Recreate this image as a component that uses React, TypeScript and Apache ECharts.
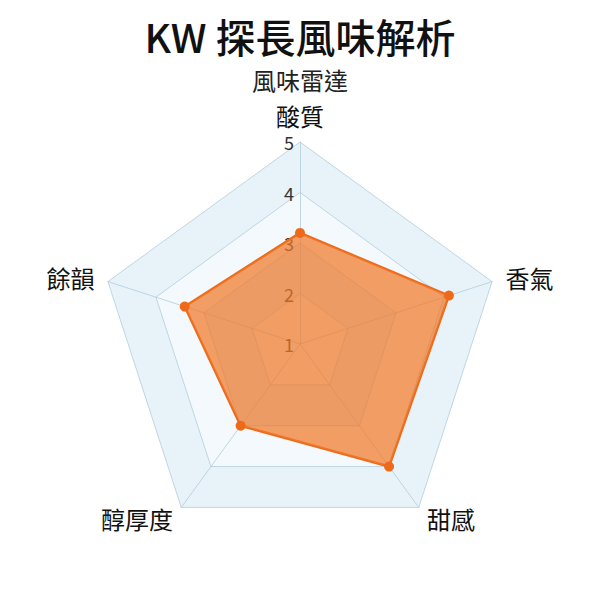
import { useEffect, useRef } from 'react';
import * as echarts from 'echarts';

// ECharts draws radar axes counter-clockwise, so the order goes top, left, bottom-left, bottom-right, right
const titleText = 'KW 探長風味解析';
const subtitleText = '風味雷達';
const indicatorNames = ['酸質', '餘韻', '醇厚度', '甜感', '香氣'];
const flavorScores = [3.2, 3.4, 3.0, 4.0, 4.1];
const scoreMin = 1;
const scoreMax = 5;

const App: React.FC = () => {
    const chartRef = useRef<HTMLDivElement>(null);

    useEffect(() => {
        document.body.style.margin = '0';
        if (!chartRef.current) return;
        const chart = echarts.init(chartRef.current, undefined, { renderer: 'svg' });
        const font = '"Noto Sans CJK TC", "Noto Sans", sans-serif';

        chart.setOption({
            animation: false,
            backgroundColor: '#ffffff',
            title: {
                text: titleText,
                subtext: subtitleText,
                left: 'center',
                top: 11,
                itemGap: 12,
                textStyle: { fontSize: 40, fontWeight: 500, color: '#111', fontFamily: font },
                subtextStyle: { fontSize: 24, color: '#222', fontFamily: font }
            },
            radar: {
                center: ['50%', 344],
                radius: 202,
                startAngle: 90,
                splitNumber: 4,
                shape: 'polygon',
                // only the top axis carries the 1..5 tick labels
                indicator: indicatorNames.map((name, i) => ({
                    name,
                    min: scoreMin,
                    max: scoreMax,
                    axisLabel: { show: i === 0 }
                })),
                axisName: { color: '#111', fontSize: 24, lineHeight: 26, fontFamily: font },
                nameGap: 14,
                axisLine: { lineStyle: { color: 'rgba(170,200,215,0.7)' } },
                splitLine: { lineStyle: { color: 'rgba(170,200,215,0.7)' } },
                splitArea: {
                    show: true,
                    areaStyle: { color: ['#f3f9fc', '#e7f3f9'] }
                },
                axisLabel: {
                    show: true,
                    color: '#333',
                    fontSize: 18,
                    lineHeight: 16,
                    fontFamily: font,
                    margin: 6
                }
            },
            series: [
                {
                    type: 'radar',
                    symbol: 'circle',
                    symbolSize: 10,
                    itemStyle: { color: '#ee6a1a' },
                    lineStyle: { color: '#ee6a1a', width: 2.5 },
                    areaStyle: { color: '#f0782a', opacity: 0.72 },
                    data: [{ value: flavorScores, name: subtitleText }]
                }
            ]
        });

        return () => {
            chart.dispose();
        };
    }, []);

    return <div ref={chartRef} style={{ width: '600px', height: '600px' }} />;
};

export default App;
